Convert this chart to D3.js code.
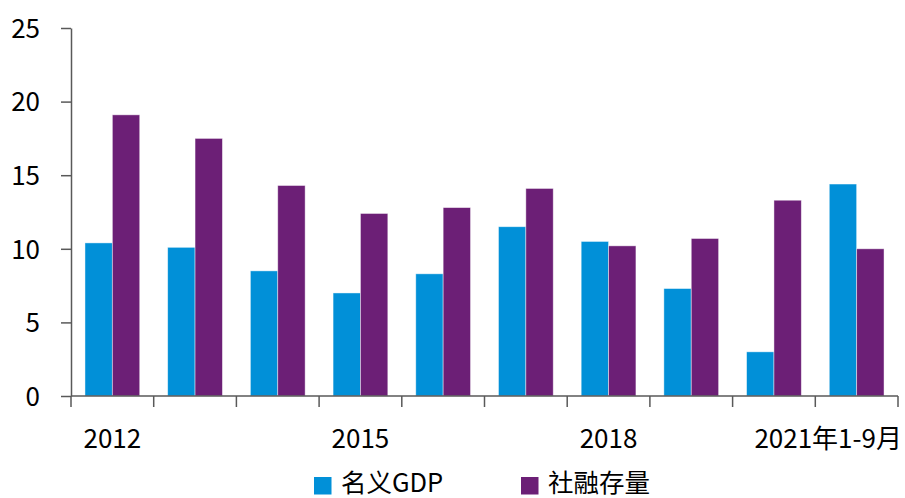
<!DOCTYPE html>
<html><head><meta charset="utf-8">
<script src="https://cdn.jsdelivr.net/npm/d3@7"></script>
<style>
html,body{margin:0;padding:0;background:#fff;}
svg text{font-family:"Noto Sans CJK SC","Noto Sans",sans-serif;fill:#000;}
</style></head>
<body><svg id="c" width="905" height="498"></svg>
<script>
const categories = ["2012","2013","2014","2015","2016","2017","2018","2019","2020","2021年1-9月"];
const shownLabels = ["2012","2015","2018","2021年1-9月"];
const seriesNames = ["名义GDP","社融存量"];
const gdp = [10.4,10.1,8.5,7.0,8.3,11.5,10.5,7.3,3.0,14.4];
const tsf = [19.1,17.5,14.3,12.4,12.8,14.1,10.2,10.7,13.3,10.0];
const yTicks = [0,5,10,15,20,25];
const colors = ["#0190d8","#6c1f76"];

(function(){
const svg = d3.select("#c");
const mL = 71, mR = 898, mT = 28, mB = 396;
const x = d3.scaleBand().domain(categories).range([mL,mR]).padding(0);
const y = d3.scaleLinear().domain([0,25]).range([mB,mT]);
const bw = x.bandwidth()*0.331;

const series = [gdp, tsf];
series.forEach((vals,si)=>{
  svg.append("g").selectAll("rect").data(vals).join("rect")
    .attr("x",(d,i)=>x(categories[i])+x.bandwidth()/2 - bw + si*bw)
    .attr("y",d=>y(d))
    .attr("width",bw)
    .attr("height",d=>y(0)-y(d))
    .attr("fill",colors[si])
    .attr("stroke","rgba(255,255,255,0.55)")
    .attr("stroke-width",0.8);
});

const ya = svg.append("g").attr("transform",`translate(${mL},0)`)
  .call(d3.axisLeft(y).tickValues(yTicks).tickSize(10).tickPadding(21).tickSizeOuter(0));
ya.select(".domain").attr("stroke","#595959").attr("stroke-width",1.5);
ya.selectAll(".tick line").attr("stroke","#595959").attr("stroke-width",1.5);
ya.selectAll(".tick text").attr("font-size",26).attr("dy","0.36em")
  .style("font-family","'Noto Sans CJK SC','Noto Sans',sans-serif");

const bounds = categories.map(c=>x(c)).concat([mR]);
const xa = svg.append("g");
xa.append("line").attr("x1",mL).attr("x2",mR).attr("y1",mB).attr("y2",mB)
  .attr("stroke","#595959").attr("stroke-width",1.5);
xa.selectAll("line.t").data(bounds).join("line").attr("class","t")
  .attr("x1",d=>d).attr("x2",d=>d).attr("y1",mB).attr("y2",mB+11)
  .attr("stroke","#595959").attr("stroke-width",1.5);
xa.selectAll("text").data(shownLabels).join("text")
  .attr("x",(d,i)=> i===shownLabels.length-1 ? 902 : x(d)+x.bandwidth()/2)
  .attr("y",448)
  .attr("text-anchor",(d,i)=> i===shownLabels.length-1 ? "end" : "middle")
  .attr("font-size",26)
  .text(d=>d);

const lg = svg.append("g");
const legX = [314,521];
seriesNames.forEach((n,i)=>{
  lg.append("rect").attr("x",legX[i]).attr("y",477).attr("width",17.5).attr("height",17.5).attr("fill",colors[i]);
  lg.append("text").attr("x",legX[i]+27).attr("y",492).attr("font-size",25.5).text(n);
});
})();
</script></body></html>
